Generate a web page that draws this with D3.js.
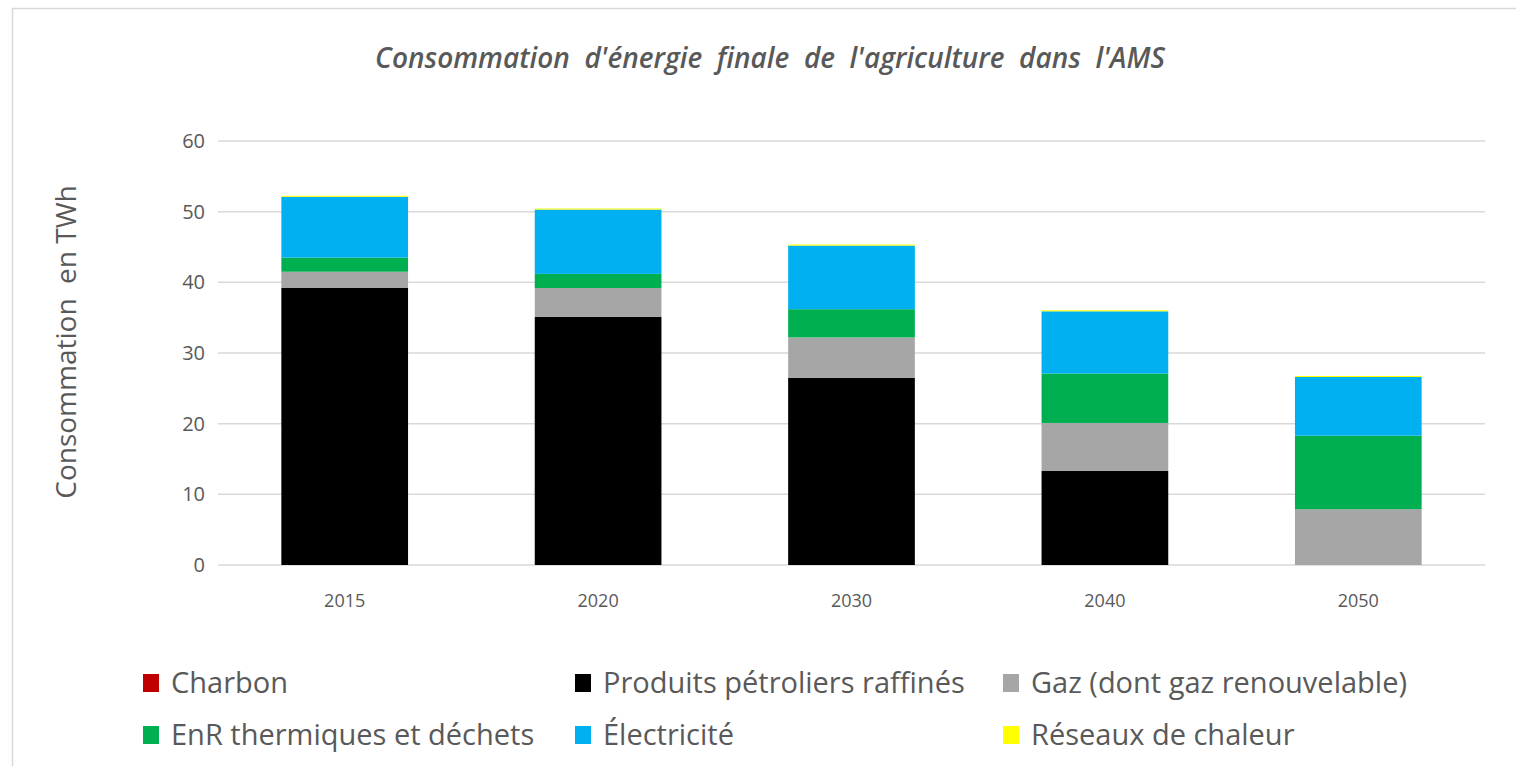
<!DOCTYPE html>
<html><head><meta charset="utf-8">
<script src="https://cdn.jsdelivr.net/npm/d3@7"></script>
<style>body{margin:0;background:#fff;} text{font-family:"Open Sans",sans-serif;}</style>
</head><body>
<svg id="c" width="1516" height="766"></svg>
<script>
const years = ["2015","2020","2030","2040","2050"];
const seriesNames = ["Charbon","Produits pétroliers raffinés","Gaz (dont gaz renouvelable)","EnR thermiques et déchets","Électricité","Réseaux de chaleur"];
const seriesColors = ["#C00000","#000000","#A6A6A6","#00B050","#00B0F0","#FFFF00"];
const charbon = [0,0,0,0,0];
const petrole = [39.2,35.1,26.5,13.3,0];
const gaz = [2.3,4.1,5.7,6.8,7.9];
const enr = [2.0,2.0,4.0,7.0,10.4];
const electricite = [8.6,9.1,9.0,8.8,8.3];
const reseaux = [0.15,0.15,0.15,0.15,0.15];
const yTicks = [0,10,20,30,40,50,60];
const title = "Consommation  d'énergie  finale  de  l'agriculture  dans  l'AMS";
const yTitle = "Consommation  en TWh";

const svg = d3.select("#c");
// frame
svg.append("rect").attr("x",12.5).attr("y",8.5).attr("width",1520).attr("height",770)
  .attr("fill","none").attr("stroke","#d9d9d9").attr("stroke-width",1.5);

const x = d3.scaleBand().domain(years).range([218,1485]).paddingInner(0.5).paddingOuter(0.25);
const y = d3.scaleLinear().domain([0,60]).range([565,141]);

// grid
svg.append("g").selectAll("line").data(yTicks).join("line")
  .attr("x1",218).attr("x2",1485).attr("y1",d=>y(d)).attr("y2",d=>y(d))
  .attr("stroke","#d9d9d9").attr("stroke-width",1.5);

const table = years.map((yr,i)=>({year:yr, s0:charbon[i], s1:petrole[i], s2:gaz[i], s3:enr[i], s4:electricite[i], s5:reseaux[i]}));
const keys = ["s0","s1","s2","s3","s4","s5"];
const stack = d3.stack().keys(keys)(table);
svg.append("g").selectAll("g").data(stack).join("g").attr("fill",(d,i)=>seriesColors[i])
  .selectAll("rect").data(d=>d).join("rect")
  .attr("x",d=>x(d.data.year)).attr("width",x.bandwidth())
  .attr("y",d=>y(d[1])).attr("height",d=>Math.max(0,y(d[0])-y(d[1])));

// y axis labels
const ya = svg.append("g").attr("transform","translate(205,0)")
  .call(d3.axisLeft(y).tickValues(yTicks).tickSize(0).tickPadding(0));
ya.select(".domain").remove();
ya.selectAll("text").attr("font-size",20).attr("fill","#595959").attr("font-family","Open Sans, sans-serif");

// x axis
const xa = svg.append("g").attr("transform","translate(0,594)")
  .call(d3.axisBottom(x).tickSize(0).tickPadding(0));
xa.select(".domain").remove();
xa.selectAll("text").attr("font-size",18).attr("fill","#595959").attr("dy","0.71em").attr("font-family","Open Sans, sans-serif");

// title
svg.append("text").attr("x",770).attr("y",68).attr("text-anchor","middle")
  .style("white-space","pre")
  .attr("font-size",28).attr("font-style","italic").attr("font-weight",600).attr("fill","#595959")
  .text(title);

// y title
svg.append("text").attr("transform","translate(76,342) rotate(-90)").attr("text-anchor","middle")
  .style("white-space","pre")
  .attr("font-size",28).attr("fill","#595959").text(yTitle);

// legend
const legPos = [[143,683],[575,683],[1003,683],[143,735],[575,735],[1003,735]];
const leg = svg.append("g").selectAll("g").data(seriesNames).join("g")
  .attr("transform",(d,i)=>`translate(${legPos[i][0]},${legPos[i][1]})`);
leg.append("rect").attr("x",0).attr("y",-9).attr("width",16).attr("height",18).attr("fill",(d,i)=>seriesColors[i]);
leg.append("text").attr("x",28).attr("y",0).attr("dy","0.35em").attr("font-size",29).attr("fill","#595959").text(d=>d);
</script>
</body></html>
